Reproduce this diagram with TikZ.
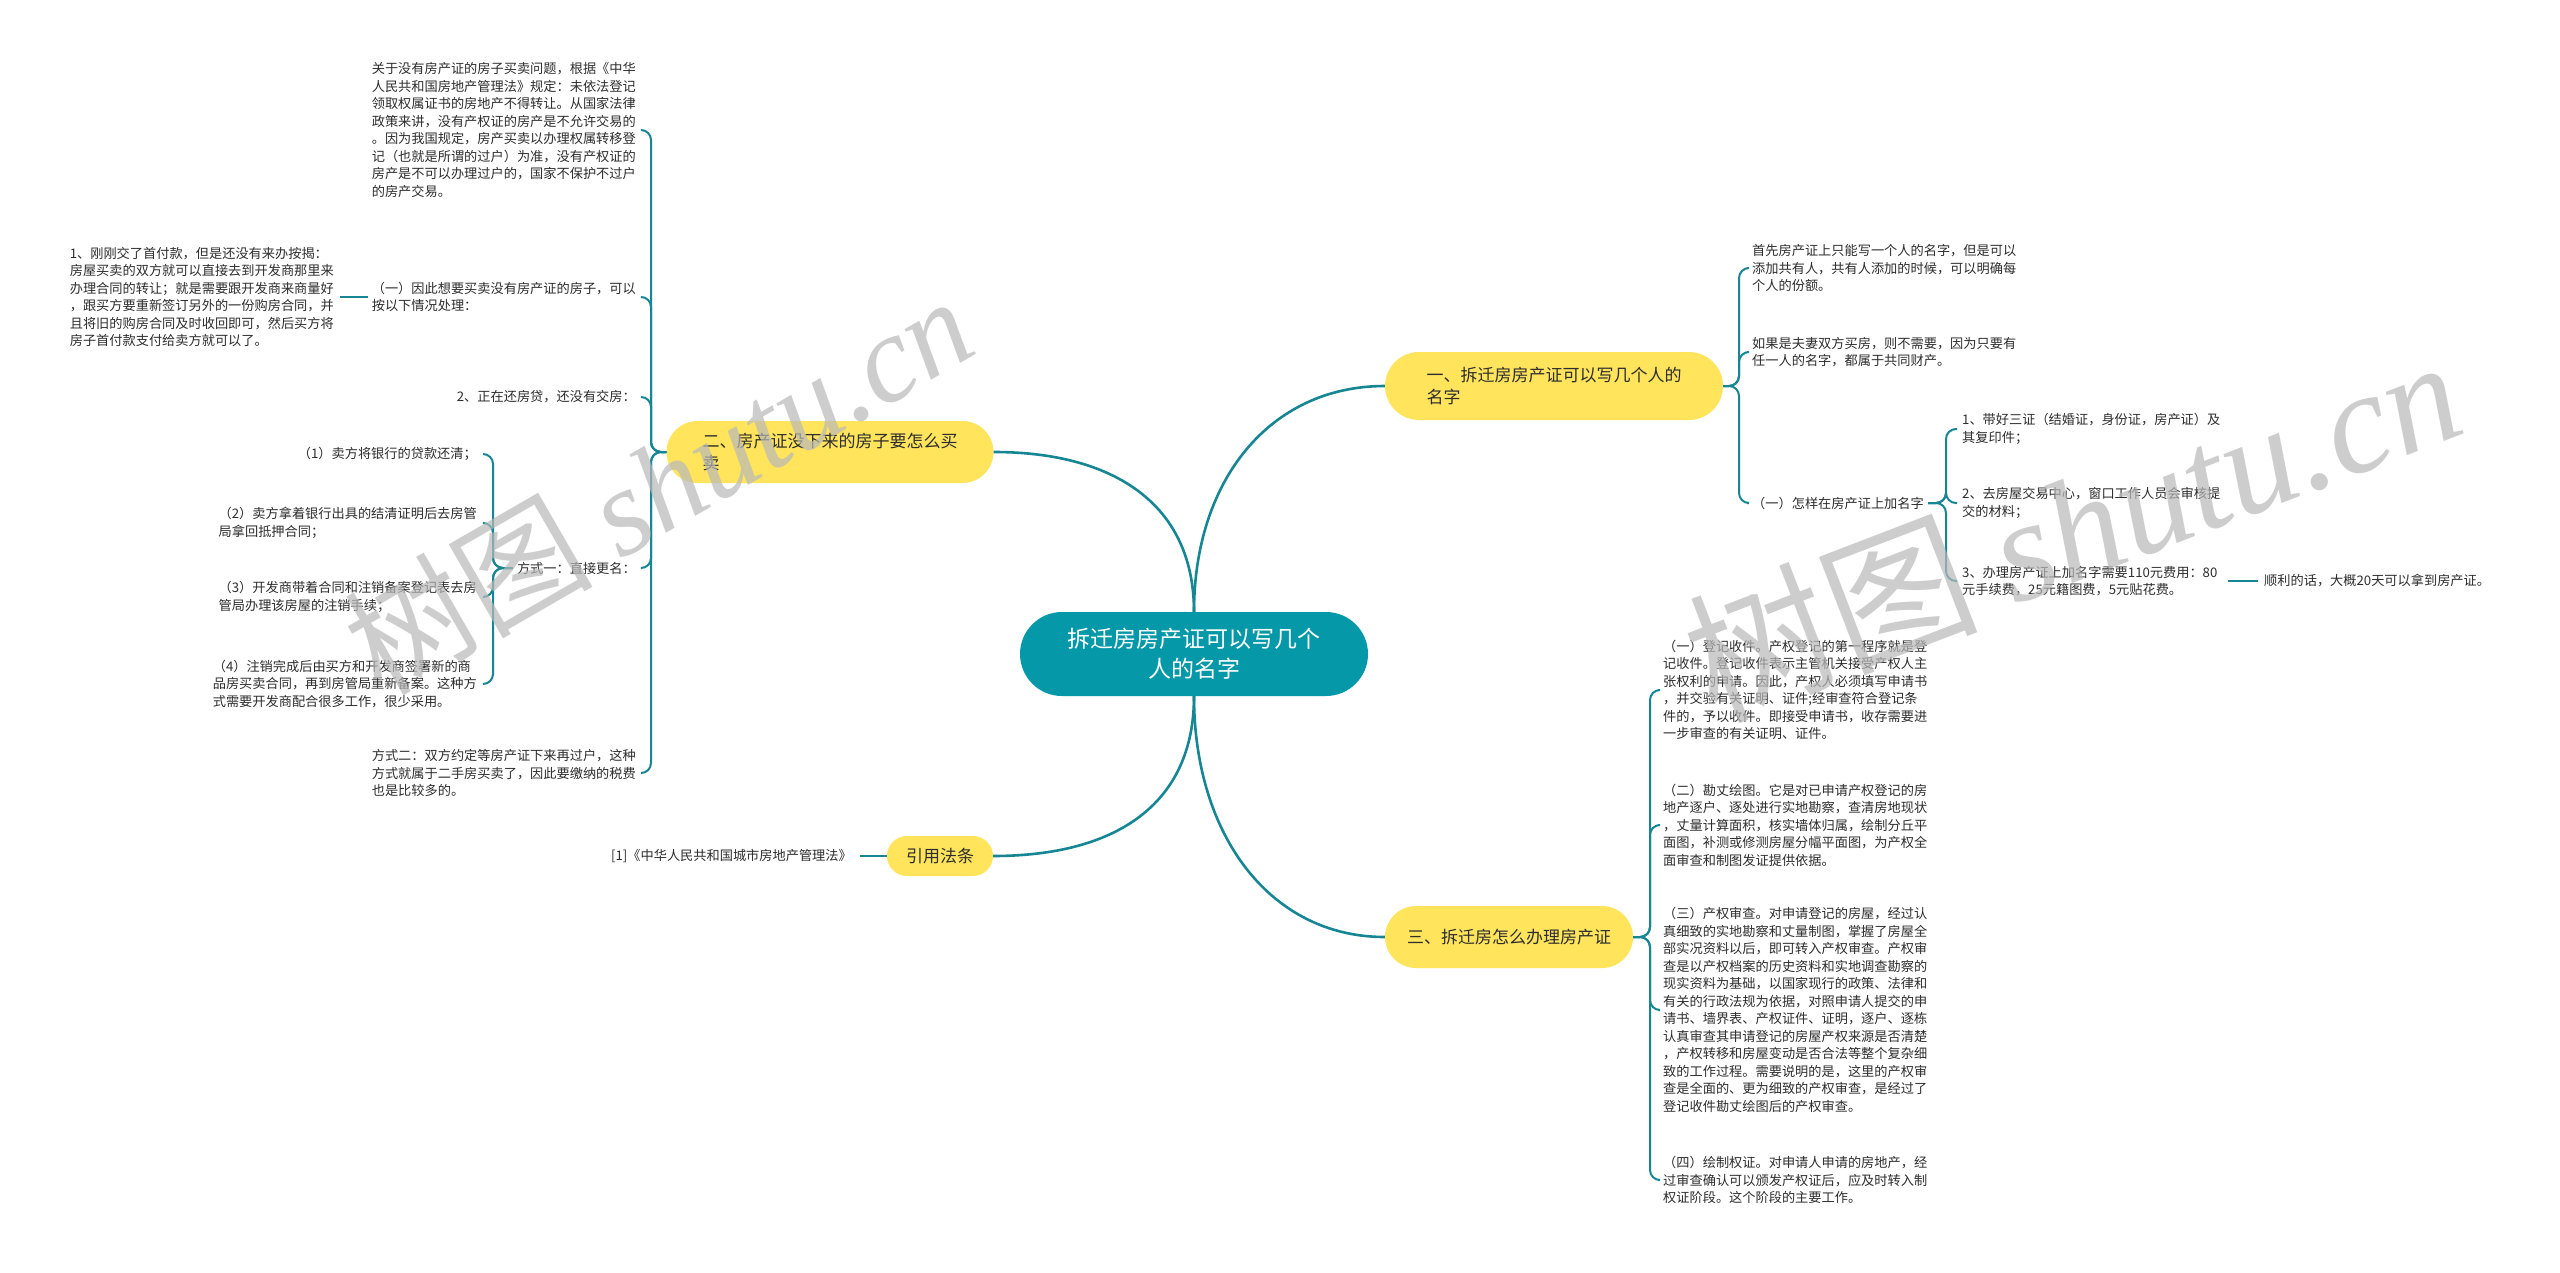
\documentclass[tikz,border=0pt]{standalone}
\usepackage{fontspec}
\setmainfont{Noto Sans CJK SC}
\newfontfamily\wmlatin{Liberation Serif}
\newfontfamily\wmcjk{Noto Sans CJK SC}
\definecolor{lc}{RGB}{22,134,148}
\definecolor{cfill}{RGB}{4,152,168}
\definecolor{ylw}{RGB}{255,228,92}
\definecolor{txt}{RGB}{45,45,45}
\definecolor{wmc}{RGB}{185,185,185}
\tikzset{
  leaf/.style={font=\fontsize{13.2}{17.5}\selectfont, text=txt, align=left, inner sep=0pt},
  pill/.style={fill=ylw, text=txt, align=left, inner sep=0pt, font=\fontsize{17}{22}\selectfont},
  central/.style={fill=cfill, text=white, align=center, inner sep=0pt, font=\fontsize{23}{30}\selectfont,
    minimum width=348pt, minimum height=84pt, rounded corners=42pt},
  mainln/.style={draw=lc, line width=2.6pt},
  subln/.style={draw=lc, line width=2pt, rounded corners=10pt},
  wm/.style={text=wmc, opacity=0.7, inner sep=0pt}
}
\begin{document}
\begin{tikzpicture}[x=1pt,y=-1pt]
\useasboundingbox[fill=white] (0,0) rectangle (2560,1272);

% central
\node[central] (c) at (1194,654) {拆迁房房产证可以写几个\\人的名字};

% main branches
\node[pill, minimum width=338pt, minimum height=68pt, rounded corners=34pt] (b1) at (1554,386) {一、拆迁房房产证可以写几个人的\\名字};
\node[pill, minimum width=327pt, minimum height=62pt, rounded corners=31pt] (b2) at (830,452) {二、房产证没下来的房子要怎么买\\卖};
\node[pill, minimum width=106pt, minimum height=40pt, rounded corners=20pt] (b3) at (940,856) {引用法条};
\node[pill, minimum width=248pt, minimum height=62pt, rounded corners=31pt] (b4) at (1509,937) {三、拆迁房怎么办理房产证};

\draw[mainln] (c.north) .. controls (1194,505) and (1115,452) .. (b2.east);
\draw[mainln] (c.north) .. controls (1194,480) and (1270,386) .. (b1.west);
\draw[mainln] (c.south) .. controls (1194,805) and (1115,856) .. (b3.east);
\draw[mainln] (c.south) .. controls (1194,835) and (1270,937) .. (b4.west);

% ---------- branch 2 (left) ----------
\node[leaf, anchor=east] (l1) at (636,130) {关于没有房产证的房子买卖问题，根据《中华\\人民共和国房地产管理法》规定：未依法登记\\领取权属证书的房地产不得转让。从国家法律\\政策来讲，没有产权证的房产是不允许交易的\\。因为我国规定，房产买卖以办理权属转移登\\记（也就是所谓的过户）为准，没有产权证的\\房产是不可以办理过户的，国家不保护不过户\\的房产交易。};
\node[leaf, anchor=east] (l2) at (636,297) {（一）因此想要买卖没有房产证的房子，可以\\按以下情况处理：};
\node[leaf, anchor=east] (l3) at (636,397) {2、正在还房贷，还没有交房：};
\node[leaf, anchor=east] (l4) at (636,568) {方式一：直接更名：};
\node[leaf, anchor=east] (l5) at (636,773) {方式二：双方约定等房产证下来再过户，这种\\方式就属于二手房买卖了，因此要缴纳的税费\\也是比较多的。};

\node[leaf, anchor=east] (k1) at (334,297) {1、刚刚交了首付款，但是还没有来办按揭：\\房屋买卖的双方就可以直接去到开发商那里来\\办理合同的转让；就是需要跟开发商来商量好\\，跟买方要重新签订另外的一份购房合同，并\\且将旧的购房合同及时收回即可，然后买方将\\房子首付款支付给卖方就可以了。};

\node[leaf, anchor=east] (m1) at (477,454) {（1）卖方将银行的贷款还清；};
\node[leaf, anchor=east] (m2) at (477,523) {（2）卖方拿着银行出具的结清证明后去房管\\局拿回抵押合同；};
\node[leaf, anchor=east] (m3) at (477,597) {（3）开发商带着合同和注销备案登记表去房\\管局办理该房屋的注销手续；};
\node[leaf, anchor=east] (m4) at (477,684) {（4）注销完成后由买方和开发商签署新的商\\品房买卖合同，再到房管局重新备案。这种方\\式需要开发商配合很多工作，很少采用。};

\coordinate (s2) at (651,452);
\foreach \n in {l1,l2,l3,l4,l5}
  \draw[subln] (b2.west) -- (s2) -- (s2 |- \n.east) -- ([xshift=6pt]\n.east);
\draw[subln] ([xshift=-4pt]l2.west) -- ([xshift=6pt]k1.east);
\coordinate (s3) at (493,568);
\foreach \n in {m1,m2,m3,m4}
  \draw[subln] ([xshift=-4pt]l4.west) -- (s3) -- (s3 |- \n.east) -- ([xshift=6pt]\n.east);

% ---------- branch 3 ----------
\node[leaf, anchor=east] (g1) at (852,856) {[1]《中华人民共和国城市房地产管理法》};
\draw[subln] ([xshift=8pt]g1.east) -- (b3.west);

% ---------- branch 1 (right) ----------
\node[leaf, anchor=west] (r1) at (1752,268) {首先房产证上只能写一个人的名字，但是可以\\添加共有人，共有人添加的时候，可以明确每\\个人的份额。};
\node[leaf, anchor=west] (r2) at (1752,352) {如果是夫妻双方买房，则不需要，因为只要有\\任一人的名字，都属于共同财产。};
\node[leaf, anchor=west] (r3) at (1752,503) {（一）怎样在房产证上加名字};
\coordinate (s1) at (1739,386);
\foreach \n in {r1,r2,r3}
  \draw[subln] (b1.east) -- (s1) -- (s1 |- \n.west) -- ([xshift=-5pt]\n.west);

\node[leaf, anchor=west] (d1) at (1962,429) {1、带好三证（结婚证，身份证，房产证）及\\其复印件；};
\node[leaf, anchor=west] (d2) at (1962,503) {2、去房屋交易中心，窗口工作人员会审核提\\交的材料；};
\node[leaf, anchor=west] (d3) at (1962,581) {3、办理房产证上加名字需要110元费用：80\\元手续费，25元籍图费，5元贴花费。};
\coordinate (s4) at (1946,503);
\foreach \n in {d1,d2,d3}
  \draw[subln] ([xshift=4pt]r3.east) -- (s4) -- (s4 |- \n.west) -- ([xshift=-5pt]\n.west);
\node[leaf, anchor=west] (e1) at (2264,581) {顺利的话，大概20天可以拿到房产证。};
\draw[subln] ([xshift=10pt]d3.east) -- ([xshift=-6pt]e1.west);

% ---------- branch 4 ----------
\node[leaf, anchor=west] (f1) at (1663,690) {（一）登记收件。产权登记的第一程序就是登\\记收件。登记收件表示主管机关接受产权人主\\张权利的申请。因此，产权人必须填写申请书\\，并交验有关证明、证件;经审查符合登记条\\件的，予以收件。即接受申请书，收存需要进\\一步审查的有关证明、证件。};
\node[leaf, anchor=west] (f2) at (1663,825) {（二）勘丈绘图。它是对已申请产权登记的房\\地产逐户、逐处进行实地勘察，查清房地现状\\，丈量计算面积，核实墙体归属，绘制分丘平\\面图，补测或修测房屋分幅平面图，为产权全\\面审查和制图发证提供依据。};
\node[leaf, anchor=west] (f3) at (1663,1010) {（三）产权审查。对申请登记的房屋，经过认\\真细致的实地勘察和丈量制图，掌握了房屋全\\部实况资料以后，即可转入产权审查。产权审\\查是以产权档案的历史资料和实地调查勘察的\\现实资料为基础，以国家现行的政策、法律和\\有关的行政法规为依据，对照申请人提交的申\\请书、墙界表、产权证件、证明，逐户、逐栋\\认真审查其申请登记的房屋产权来源是否清楚\\，产权转移和房屋变动是否合法等整个复杂细\\致的工作过程。需要说明的是，这里的产权审\\查是全面的、更为细致的产权审查，是经过了\\登记收件勘丈绘图后的产权审查。};
\node[leaf, anchor=west] (f4) at (1663,1180) {（四）绘制权证。对申请人申请的房地产，经\\过审查确认可以颁发产权证后，应及时转入制\\权证阶段。这个阶段的主要工作。};
\coordinate (s5) at (1650,937);
\foreach \n in {f1,f2,f3,f4}
  \draw[subln] (b4.east) -- (s5) -- (s5 |- \n.west) -- ([xshift=-5pt]\n.west);

% ---------- watermarks ----------
\node[wm, rotate=30, font=\fontsize{124}{124}\selectfont] (w1) at (658,484) {{\wmcjk 树图} {\wmlatin\itshape shutu.cn}};
\node[wm, rotate=21, font=\fontsize{145}{145}\selectfont] (w2) at (2072,525) {{\wmcjk 树图} {\wmlatin\itshape shutu.cn}};
\end{tikzpicture}
\end{document}
